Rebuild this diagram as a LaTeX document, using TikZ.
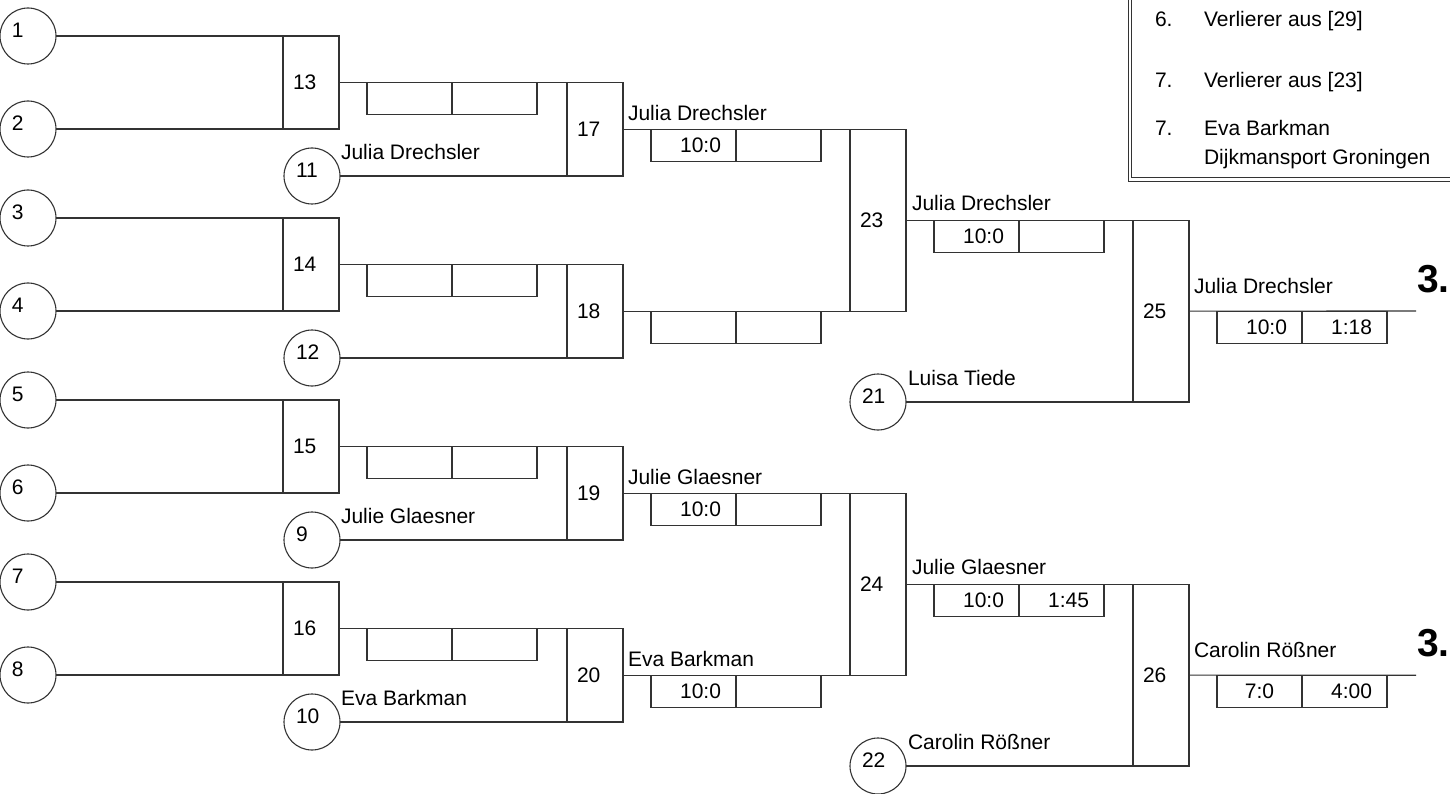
\documentclass[tikz,border=0pt]{standalone}
\usepackage{fontspec}
\setmainfont{Liberation Sans}
\definecolor{ln}{HTML}{333333}
\begin{document}
\begin{tikzpicture}[x=1pt,y=-1pt,
  every node/.style={font=\fontsize{21}{25}\selectfont, text=black, outer sep=0pt},
  conn/.style={draw=ln, line width=1.1pt},
  seat/.style={circle, draw=ln, line width=1.1pt, minimum size=56pt, inner sep=0pt},
  matchbox/.style={draw=ln, line width=1.1pt, anchor=north west, minimum width=56pt, inner sep=0pt},
  cellbox/.style={draw=ln, line width=1.1pt, anchor=north west, minimum width=85pt, minimum height=32pt, inner sep=0pt},
  numtext/.style={anchor=west, inner sep=0pt},
  nametext/.style={anchor=base west, inner sep=0pt},
  scoretext/.style={anchor=east, inner sep=0pt},
  placetext/.style={anchor=base west, inner sep=0pt, font=\fontsize{39}{44}\selectfont\bfseries}
]
\useasboundingbox (0,0) rectangle (1450,794);

% ---------- seats (circles)
\node[seat] (c1) at (28,36) {};
\node[seat] (c2) at (28,129) {};
\node[seat] (c3) at (28,218) {};
\node[seat] (c4) at (28,311) {};
\node[seat] (c5) at (28,400) {};
\node[seat] (c6) at (28,493) {};
\node[seat] (c7) at (28,582) {};
\node[seat] (c8) at (28,675) {};
\node[seat] (c11) at (312,176) {};
\node[seat] (c12) at (312,358) {};
\node[seat] (c9) at (312,540) {};
\node[seat] (c10) at (312,722) {};
\node[seat] (c21) at (878,402) {};
\node[seat] (c22) at (878,766) {};
\foreach \c in {1,...,12,21,22}
  \node[numtext] at ([xshift=-16pt,yshift=6pt]c\c.center) {\c};

% ---------- match boxes
\node[matchbox, minimum height=93pt] (m13) at (283,36) {};
\node[matchbox, minimum height=93pt] (m14) at (283,218) {};
\node[matchbox, minimum height=93pt] (m15) at (283,400) {};
\node[matchbox, minimum height=93pt] (m16) at (283,582) {};
\node[matchbox, minimum height=93.5pt] (m17) at (567,82.5) {};
\node[matchbox, minimum height=93.5pt] (m18) at (567,264.5) {};
\node[matchbox, minimum height=93.5pt] (m19) at (567,446.5) {};
\node[matchbox, minimum height=93.5pt] (m20) at (567,628.5) {};
\node[matchbox, minimum height=182pt] (m23) at (850,129.25) {};
\node[matchbox, minimum height=182pt] (m24) at (850,493.25) {};
\node[matchbox, minimum height=181.75pt] (m25) at (1133,220.25) {};
\node[matchbox, minimum height=181.75pt] (m26) at (1133,584.25) {};
\foreach \m in {13,...,20,23,24,25,26}
  \node[numtext] at ([xshift=10pt]m\m.west) {\m};

% ---------- connectors
\draw[conn] (c1.east) -- (m13.north west);
\draw[conn] (c2.east) -- (m13.south west);
\draw[conn] (c3.east) -- (m14.north west);
\draw[conn] (c4.east) -- (m14.south west);
\draw[conn] (c5.east) -- (m15.north west);
\draw[conn] (c6.east) -- (m15.south west);
\draw[conn] (c7.east) -- (m16.north west);
\draw[conn] (c8.east) -- (m16.south west);
\draw[conn] (m13.east) -- (m17.north west);
\draw[conn] (c11.east) -- (m17.south west);
\draw[conn] (m14.east) -- (m18.north west);
\draw[conn] (c12.east) -- (m18.south west);
\draw[conn] (m15.east) -- (m19.north west);
\draw[conn] (c9.east) -- (m19.south west);
\draw[conn] (m16.east) -- (m20.north west);
\draw[conn] (c10.east) -- (m20.south west);
\draw[conn] (m17.east) -- (m23.north west);
\draw[conn] (m18.east) -- (m23.south west);
\draw[conn] (m19.east) -- (m24.north west);
\draw[conn] (m20.east) -- (m24.south west);
\draw[conn] (m23.east) -- (m25.north west);
\draw[conn] (c21.east) -- (m25.south west);
\draw[conn] (m24.east) -- (m26.north west);
\draw[conn] (c22.east) -- (m26.south west);
\coordinate (o25) at (1416,311);
\coordinate (o26) at (1416,675.25);
\draw[conn] (m25.east) -- (o25);
\draw[conn] (m26.east) -- (o26);

% ---------- score cells
\foreach \m in {13,...,20,23,24,25,26}{
  \node[cellbox] (s\m a) at ([xshift=28pt]m\m.east) {};
  \node[cellbox] (s\m b) at (s\m a.north east) {};
}
\node[scoretext] at ([xshift=-15pt]s17a.east) {10:0};
\node[scoretext] at ([xshift=-15pt]s19a.east) {10:0};
\node[scoretext] at ([xshift=-15pt]s20a.east) {10:0};
\node[scoretext] at ([xshift=-15pt]s23a.east) {10:0};
\node[scoretext] at ([xshift=-15pt]s24a.east) {10:0};
\node[scoretext] at ([xshift=-15pt]s24b.east) {1:45};
\node[scoretext] at ([xshift=-15pt]s25a.east) {10:0};
\node[scoretext] at ([xshift=-15pt]s25b.east) {1:18};
\node[scoretext] at ([xshift=-28pt]s26a.east) {7:0};
\node[scoretext] at ([xshift=-15pt]s26b.east) {4:00};

% ---------- names
\node[nametext] at ([xshift=1pt,yshift=16.5pt]c11.east) {Julia Drechsler};
\node[nametext] at ([xshift=1pt,yshift=16.5pt]c9.east) {Julie Glaesner};
\node[nametext] at ([xshift=1pt,yshift=16.5pt]c10.east) {Eva Barkman};
\node[nametext] at ([xshift=2pt,yshift=16.5pt]c21.east) {Luisa Tiede};
\node[nametext] at ([xshift=2pt,yshift=16.5pt]c22.east) {Carolin Rößner};
\node[nametext] at ([xshift=5pt,yshift=9pt]m17.east) {Julia Drechsler};
\node[nametext] at ([xshift=5pt,yshift=9pt]m19.east) {Julie Glaesner};
\node[nametext] at ([xshift=5pt,yshift=9pt]m20.east) {Eva Barkman};
\node[nametext] at ([xshift=6pt,yshift=9.5pt]m23.east) {Julia Drechsler};
\node[nametext] at ([xshift=6pt,yshift=9.5pt]m24.east) {Julie Glaesner};
\node[nametext] at ([xshift=5pt,yshift=18pt]m25.east) {Julia Drechsler};
\node[nametext] at ([xshift=5pt,yshift=18pt]m26.east) {Carolin Rößner};
\node[placetext] at ([xshift=1pt,yshift=19pt]o25) {3.};
\node[placetext] at ([xshift=1pt,yshift=19pt]o26) {3.};

% ---------- legend box
\draw[draw=ln, line width=0.9pt] (1128,-20) -- (1128,181) -- (1470,181);
\draw[draw=ln, line width=0.9pt] (1131.5,-20) -- (1131.5,177.5) -- (1470,177.5);
\node[nametext] at (1155,27) {6.};
\node[nametext] at (1204,27) {Verlierer aus [29]};
\node[nametext] at (1155,88) {7.};
\node[nametext] at (1204,88) {Verlierer aus [23]};
\node[nametext] at (1155,136) {7.};
\node[nametext] at (1204,136) {Eva Barkman};
\node[nametext] at (1204,165) {Dijkmansport Groningen};
\end{tikzpicture}
\end{document}
